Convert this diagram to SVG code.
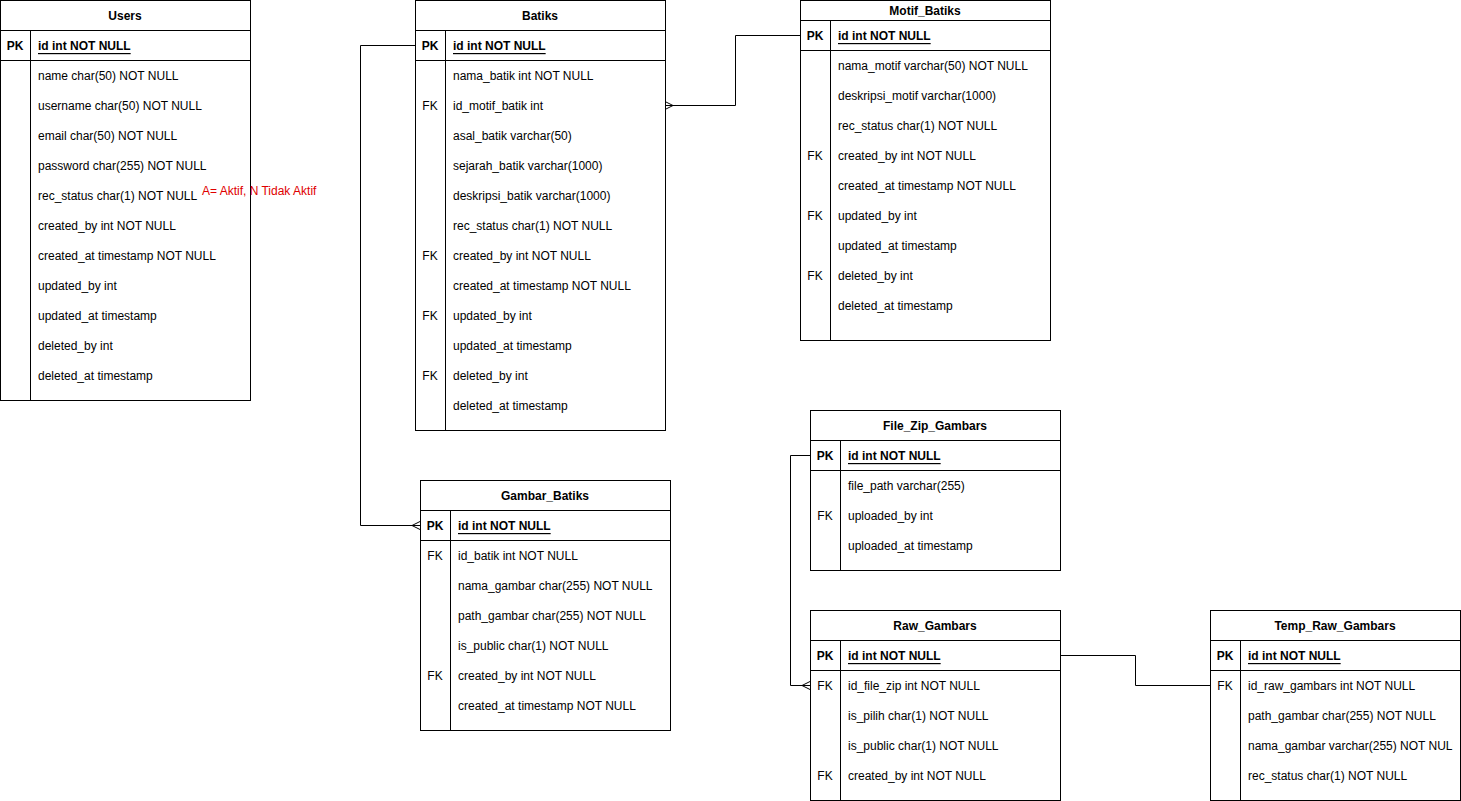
<svg xmlns="http://www.w3.org/2000/svg" width="1461" height="801" viewBox="0 0 1461 801">
<style>
text{font-family:"Liberation Sans",Arial,sans-serif;font-size:12px;fill:#000;dominant-baseline:central}
.t{font-weight:bold;text-anchor:middle}
.k{text-anchor:middle}
.pk{font-weight:bold}
.pkf{font-weight:bold;text-decoration:underline}
.box{fill:#fff;stroke:#000;stroke-width:1}
.ln{stroke:#000;stroke-width:1;fill:none}
.note{fill:#e00000}
</style>
<defs>
<clipPath id="clipTemp"><rect x="1210" y="610" width="243" height="190"/></clipPath>
</defs>
<rect width="1461" height="801" fill="#fff"/>

<g id="connectors" class="ln">
<path d="M415.5 45.5H360.5V525.5H420.5"/>
<path d="M420 521.5L412 525.5L420 529.5"/>
<path d="M665.5 105.5H735.5V35.5H800.5"/>
<path d="M665 101.5L673 105.5L665 109.5"/>
<path d="M810.5 455.5H790.5V685.5H810.5"/>
<path d="M810 681.5L802 685.5L810 689.5"/>
<path d="M1060.5 655.5H1135.5V685.5H1210.5"/>
</g>

<g id="users" transform="translate(0,1)">
<rect class="box" x="0.5" y="-0.5" width="250" height="400"/>
<path class="ln" d="M0.5 29.5H250.5M0.5 59.5H250.5M30.5 29.5V399.5"/>
<text class="t" x="125" y="15">Users</text>
<text class="k pk" x="15" y="45">PK</text>
<text class="pkf" x="38" y="45">id int NOT NULL</text>
<text x="38" y="75">name char(50) NOT NULL</text>
<text x="38" y="105">username char(50) NOT NULL</text>
<text x="38" y="135">email char(50) NOT NULL</text>
<text x="38" y="165">password char(255) NOT NULL</text>
<text x="38" y="195">rec_status char(1) NOT NULL</text>
<text x="38" y="225">created_by int NOT NULL</text>
<text x="38" y="255">created_at timestamp NOT NULL</text>
<text x="38" y="285">updated_by int</text>
<text x="38" y="315">updated_at timestamp</text>
<text x="38" y="345">deleted_by int</text>
<text x="38" y="375">deleted_at timestamp</text>
</g>

<g id="note">
<text class="note" x="202" y="191">A= Aktif, N Tidak Aktif</text>
</g>

<g id="batiks" transform="translate(0,1)">
<rect class="box" x="415.5" y="-0.5" width="250" height="430"/>
<path class="ln" d="M415.5 29.5H665.5M415.5 59.5H665.5M445.5 29.5V429.5"/>
<text class="t" x="540" y="15">Batiks</text>
<text class="k pk" x="430" y="45">PK</text>
<text class="pkf" x="453" y="45">id int NOT NULL</text>
<text x="453" y="75">nama_batik int NOT NULL</text>
<text class="k" x="430" y="105">FK</text>
<text x="453" y="105">id_motif_batik int</text>
<text x="453" y="135">asal_batik varchar(50)</text>
<text x="453" y="165">sejarah_batik varchar(1000)</text>
<text x="453" y="195">deskripsi_batik varchar(1000)</text>
<text x="453" y="225">rec_status char(1) NOT NULL</text>
<text class="k" x="430" y="255">FK</text>
<text x="453" y="255">created_by int NOT NULL</text>
<text x="453" y="285">created_at timestamp NOT NULL</text>
<text class="k" x="430" y="315">FK</text>
<text x="453" y="315">updated_by int</text>
<text x="453" y="345">updated_at timestamp</text>
<text class="k" x="430" y="375">FK</text>
<text x="453" y="375">deleted_by int</text>
<text x="453" y="405">deleted_at timestamp</text>
</g>

<g id="motif_batiks" transform="translate(0,1)">
<rect class="box" x="800.5" y="-0.5" width="250" height="340"/>
<path class="ln" d="M800.5 19.5H1050.5M800.5 49.5H1050.5M830.5 19.5V339.5"/>
<text class="t" x="925" y="10">Motif_Batiks</text>
<text class="k pk" x="815" y="35">PK</text>
<text class="pkf" x="838" y="35">id int NOT NULL</text>
<text x="838" y="65">nama_motif varchar(50) NOT NULL</text>
<text x="838" y="95">deskripsi_motif varchar(1000)</text>
<text x="838" y="125">rec_status char(1) NOT NULL</text>
<text class="k" x="815" y="155">FK</text>
<text x="838" y="155">created_by int NOT NULL</text>
<text x="838" y="185">created_at timestamp NOT NULL</text>
<text class="k" x="815" y="215">FK</text>
<text x="838" y="215">updated_by int</text>
<text x="838" y="245">updated_at timestamp</text>
<text class="k" x="815" y="275">FK</text>
<text x="838" y="275">deleted_by int</text>
<text x="838" y="305">deleted_at timestamp</text>
</g>

<g id="gambar_batiks" transform="translate(0,1)">
<rect class="box" x="420.5" y="479.5" width="250" height="250"/>
<path class="ln" d="M420.5 509.5H670.5M420.5 539.5H670.5M450.5 509.5V729.5"/>
<text class="t" x="545" y="495">Gambar_Batiks</text>
<text class="k pk" x="435" y="525">PK</text>
<text class="pkf" x="458" y="525">id int NOT NULL</text>
<text class="k" x="435" y="555">FK</text>
<text x="458" y="555">id_batik int NOT NULL</text>
<text x="458" y="585">nama_gambar char(255) NOT NULL</text>
<text x="458" y="615">path_gambar char(255) NOT NULL</text>
<text x="458" y="645">is_public char(1) NOT NULL</text>
<text class="k" x="435" y="675">FK</text>
<text x="458" y="675">created_by int NOT NULL</text>
<text x="458" y="705">created_at timestamp NOT NULL</text>
</g>

<g id="file_zip_gambars" transform="translate(0,1)">
<rect class="box" x="810.5" y="409.5" width="250" height="160"/>
<path class="ln" d="M810.5 439.5H1060.5M810.5 469.5H1060.5M840.5 439.5V569.5"/>
<text class="t" x="935" y="425">File_Zip_Gambars</text>
<text class="k pk" x="825" y="455">PK</text>
<text class="pkf" x="848" y="455">id int NOT NULL</text>
<text x="848" y="485">file_path varchar(255)</text>
<text class="k" x="825" y="515">FK</text>
<text x="848" y="515">uploaded_by int</text>
<text x="848" y="545">uploaded_at timestamp</text>
</g>

<g id="raw_gambars" transform="translate(0,1)">
<rect class="box" x="810.5" y="609.5" width="250" height="190"/>
<path class="ln" d="M810.5 639.5H1060.5M810.5 669.5H1060.5M840.5 639.5V799.5"/>
<text class="t" x="935" y="625">Raw_Gambars</text>
<text class="k pk" x="825" y="655">PK</text>
<text class="pkf" x="848" y="655">id int NOT NULL</text>
<text class="k" x="825" y="685">FK</text>
<text x="848" y="685">id_file_zip int NOT NULL</text>
<text x="848" y="715">is_pilih char(1) NOT NULL</text>
<text x="848" y="745">is_public char(1) NOT NULL</text>
<text class="k" x="825" y="775">FK</text>
<text x="848" y="775">created_by int NOT NULL</text>
</g>

<g id="temp_raw_gambars" transform="translate(0,1)">
<rect class="box" x="1210.5" y="609.5" width="250" height="190"/>
<path class="ln" d="M1210.5 639.5H1460.5M1210.5 669.5H1460.5M1240.5 639.5V799.5"/>
<text class="t" x="1335" y="625">Temp_Raw_Gambars</text>
<text class="k pk" x="1225" y="655">PK</text>
<text class="pkf" x="1248" y="655">id int NOT NULL</text>
<text class="k" x="1225" y="685">FK</text>
<g clip-path="url(#clipTemp)">
<text x="1248" y="685">id_raw_gambars int NOT NULL</text>
<text x="1248" y="715">path_gambar char(255) NOT NULL</text>
<text x="1248" y="745">nama_gambar varchar(255) NOT NULL</text>
<text x="1248" y="775">rec_status char(1) NOT NULL</text>
</g>
</g>
</svg>
